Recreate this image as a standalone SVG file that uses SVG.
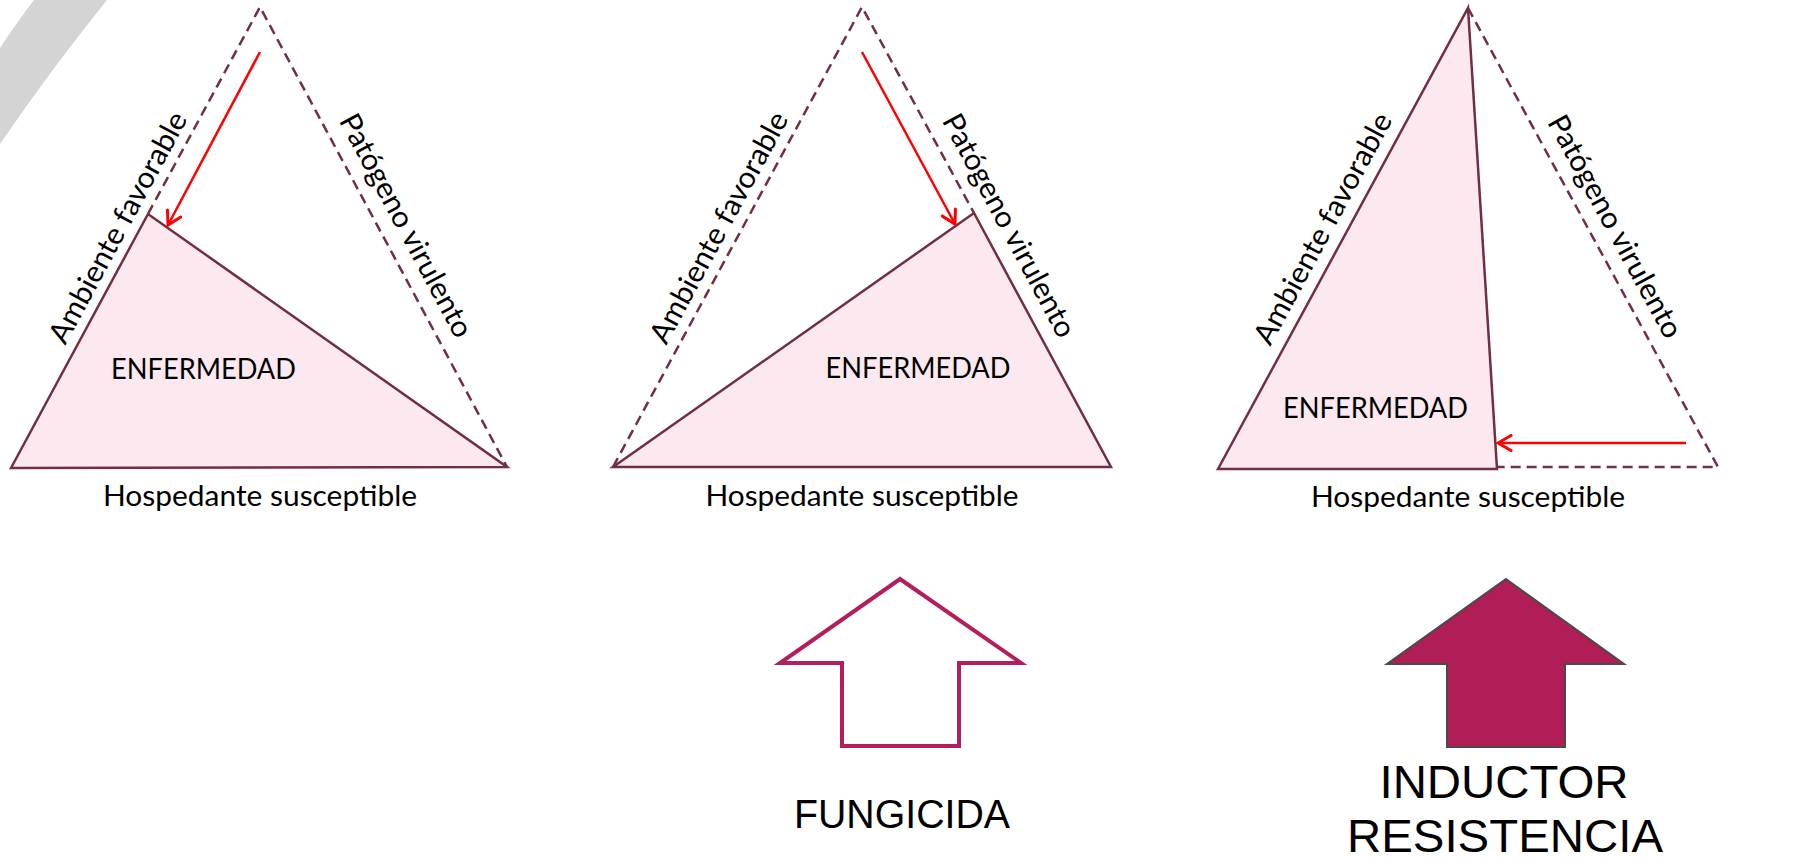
<svg xmlns="http://www.w3.org/2000/svg" width="1796" height="859" viewBox="0 0 1796 859">
<style>
.bg{fill:#ffffff}
.swoosh{fill:#d4d4d4}
.dis{fill:#fbe9ef;stroke:#722f40;stroke-width:2.5;stroke-linejoin:miter}
.dash{fill:none;stroke:#722f40;stroke-width:2.5;stroke-dasharray:10 6}
.red{fill:none;stroke:#ff0000;stroke-width:2.5}
.lbl{font-family:Lato,"Open Sans","Liberation Sans",sans-serif;font-size:29.5px;fill:#000000}
.big{font-family:"Liberation Sans",Arial,sans-serif;fill:#000000}
.arrOpen{fill:#ffffff;stroke:#b41e5c;stroke-width:4}
.arrFull{fill:#b11d57;stroke:#4a4a4a;stroke-width:2}
</style>
<defs>
<marker id="vhead" viewBox="-16 -9 18 18" refX="0" refY="0" markerWidth="18" markerHeight="18" markerUnits="userSpaceOnUse" orient="auto">
<path d="M-13,-7.5 L0,0 L-13,7.5" fill="none" stroke="#ff0000" stroke-width="3" stroke-linecap="round" stroke-linejoin="miter"/>
</marker>
</defs>
<rect class="bg" x="0" y="0" width="1796" height="859"/>
<path class="swoosh" d="M34,0 L107,0 Q52,68 0,144 L0,48 Q17,22 34,0 Z"/>

<g id="triangle1">
<polygon class="dis" points="11,468 148,214 507,467"/>
<path class="dash" d="M148,214 L260,7 L507,467"/>
<text class="lbl" x="203.5" y="379" text-anchor="middle" textLength="185" lengthAdjust="spacingAndGlyphs">ENFERMEDAD</text>
<text class="lbl" x="260" y="506" text-anchor="middle" textLength="314" lengthAdjust="spacingAndGlyphs">Hospedante susceptible</text>
<text class="lbl" transform="translate(117,227) rotate(-61.6)" x="0" y="11" text-anchor="middle" textLength="258" lengthAdjust="spacingAndGlyphs">Ambiente favorable</text>
<text class="lbl" transform="translate(407,225) rotate(61.8)" x="0" y="11" text-anchor="middle" textLength="249" lengthAdjust="spacingAndGlyphs">Patógeno virulento</text>
</g>

<g id="triangle2">
<polygon class="dis" points="613,467 974,213 1111,467"/>
<path class="dash" d="M613,467 L862,7 L974,213"/>
<text class="lbl" x="918" y="378" text-anchor="middle" textLength="185" lengthAdjust="spacingAndGlyphs">ENFERMEDAD</text>
<text class="lbl" x="862" y="506" text-anchor="middle" textLength="313" lengthAdjust="spacingAndGlyphs">Hospedante susceptible</text>
<text class="lbl" transform="translate(718,227) rotate(-61.6)" x="0" y="11" text-anchor="middle" textLength="258" lengthAdjust="spacingAndGlyphs">Ambiente favorable</text>
<text class="lbl" transform="translate(1010,225) rotate(61.8)" x="0" y="11" text-anchor="middle" textLength="249" lengthAdjust="spacingAndGlyphs">Patógeno virulento</text>
</g>

<g id="triangle3">
<polygon class="dis" points="1218,469 1468,8 1497,469"/>
<path class="dash" d="M1468,8 L1718,467 L1497,467"/>
<text class="lbl" x="1375.5" y="418" text-anchor="middle" textLength="185" lengthAdjust="spacingAndGlyphs">ENFERMEDAD</text>
<text class="lbl" x="1468" y="507" text-anchor="middle" textLength="314" lengthAdjust="spacingAndGlyphs">Hospedante susceptible</text>
<text class="lbl" transform="translate(1322,228) rotate(-61.6)" x="0" y="11" text-anchor="middle" textLength="258" lengthAdjust="spacingAndGlyphs">Ambiente favorable</text>
<text class="lbl" transform="translate(1616,226) rotate(61.4)" x="0" y="11" text-anchor="middle" textLength="249" lengthAdjust="spacingAndGlyphs">Patógeno virulento</text>
</g>

<g id="fungicida">
<polygon class="arrOpen" points="900,579 1021,663 959,663 959,746 842,746 842,663 780,663"/>
<text class="big" x="902" y="828" font-size="40" text-anchor="middle" textLength="216" lengthAdjust="spacingAndGlyphs">FUNGICIDA</text>
</g>

<g id="inductor">
<polygon class="arrFull" points="1506,579 1624,664 1565,664 1565,747 1447,747 1447,664 1387,664"/>
<text class="big" x="1504" y="798" font-size="47" text-anchor="middle" textLength="249" lengthAdjust="spacingAndGlyphs">INDUCTOR</text>
<text class="big" x="1505" y="852" font-size="47" text-anchor="middle" textLength="316" lengthAdjust="spacingAndGlyphs">RESISTENCIA</text>
</g>

<g id="connectors">
<line class="red" x1="260" y1="52" x2="168" y2="225" marker-end="url(#vhead)"/>
<line class="red" x1="862" y1="52" x2="955" y2="224" marker-end="url(#vhead)"/>
<line class="red" x1="1686" y1="443" x2="1498" y2="443" marker-end="url(#vhead)"/>
</g>
</svg>
